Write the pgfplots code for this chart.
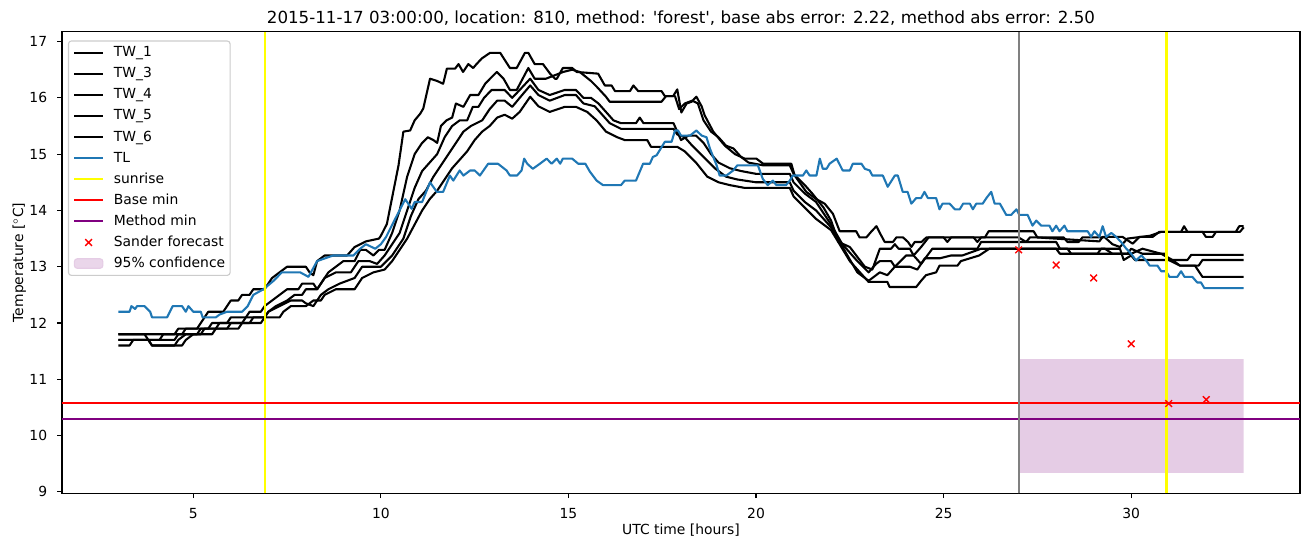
\documentclass[border=0pt]{standalone}
\usepackage{fontspec}
\setmainfont{DejaVu Sans}
\usepackage{pgfplots}
\pgfplotsset{compat=1.18}
\definecolor{tlblue}{RGB}{31,119,180}
\definecolor{confc}{RGB}{229,204,229}
\definecolor{mplpurple}{RGB}{128,0,128}
\definecolor{mplgray}{RGB}{128,128,128}
\definecolor{mplyellow}{RGB}{255,255,0}
\definecolor{mplred}{RGB}{255,0,0}
\definecolor{legedge}{RGB}{204,204,204}
\begin{document}
\begin{tikzpicture}
\path[use as bounding box] (-44.64pt,-38.66pt) rectangle (899.28pt,355.18pt);
\begin{axis}[
  scale only axis, width=891.36pt, height=332.35pt,
  xmin=1.5, xmax=34.5, ymin=8.975, ymax=17.175,
  xtick={5,10,15,20,25,30}, ytick={9,10,11,12,13,14,15,16,17},
  tick align=outside, tick pos=left, major tick length=3.5pt,
  tick style={black, line width=0.8pt},
  axis line style={line width=0.8pt},
  /pgf/number format/assume math mode=true,
  xticklabel style={font=\fontsize{10}{12}\selectfont, anchor=north, inner sep=0pt, yshift=-7pt},
  yticklabel style={font=\fontsize{10}{12}\selectfont, anchor=east, inner sep=0pt, xshift=-7pt},
  xlabel={UTC time [hours]},
  ylabel={Temperature [$^\circ$C]},
  xlabel style={font=\fontsize{10}{12}\selectfont, at={(axis description cs:0.5,0)}, anchor=base, yshift=-29.6pt, inner sep=0pt},
  ylabel style={font=\fontsize{10}{12}\selectfont, at={([xshift=-28pt]axis description cs:0,0.5)}, anchor=base, inner sep=0pt},
  title={2015-11-17 03:00:00, location: 810, method: \textquotesingle forest\textquotesingle, base abs error: 2.22, method abs error: 2.50},
  every axis title/.style={font=\fontsize{12}{14}\selectfont, at={(axis description cs:0.5,1)}, anchor=base, yshift=6pt, inner sep=0pt},
  legend style={at={(axis description cs:0.0048,0.981)}, anchor=north west,
    draw=legedge, line width=0.8pt, rounded corners=2pt, fill=white, fill opacity=0.8, text opacity=1,
    font=\fontsize{10}{12}\selectfont, inner sep=3.5pt, row sep=5.17pt, column sep=7.2pt,
    nodes={inner sep=0pt, text height=7.8pt, text depth=2.2pt}},
  legend cell align=left,
  legend image code/.code={\draw[mark repeat=2,mark phase=2,#1] plot coordinates {(0cm,0cm) (0.36cm,0cm) (0.72cm,0cm)};},
]
% confidence band (behind)
\addplot[fill=confc, draw=none, forget plot] coordinates {(27,9.34) (33,9.34) (33,11.36) (27,11.36)} \closedcycle;

% TW_1
\addplot[black, line width=1.5pt, line join=round] coordinates {
(3,11.8) (4.5,11.8) (4.6,11.9) (5.1,11.9) (5.2,12.0) (5.3,12.1) (5.4,12.2) (5.8,12.2) (5.9,12.3) (6.0,12.4) (6.2,12.4) (6.3,12.5) (6.5,12.5) (6.6,12.6) (6.9,12.6) (7.0,12.7) (7.1,12.8) (7.3,12.9) (7.5,13.0) (8.0,13.0) (8.1,12.9) (8.2,12.85) (8.3,13.1) (8.5,13.2) (9.1,13.2) (9.3,13.35) (9.6,13.45) (9.95,13.5) (10.0,13.55) (10.16,13.76) (10.33,14.33) (10.47,14.8) (10.6,15.4) (10.78,15.42) (10.9,15.6) (11.05,15.72) (11.13,15.81) (11.31,16.34) (11.5,16.3) (11.66,16.25) (11.76,16.52) (11.98,16.52) (12.07,16.6) (12.19,16.46) (12.33,16.6) (12.46,16.53) (12.55,16.6) (12.69,16.7) (12.91,16.8) (13.18,16.8) (13.44,16.53) (13.62,16.53) (13.84,16.8) (13.93,16.8) (14.1,16.6) (14.32,16.6) (14.51,16.43) (14.64,16.34) (14.69,16.34) (14.85,16.53) (15.1,16.53) (15.22,16.46) (15.79,16.43) (15.97,16.22) (16.15,16.22) (16.24,16.12) (16.64,16.12) (16.73,16.22) (16.86,16.12) (17.48,16.12) (17.57,16.03) (17.79,16.03) (17.9,16.15) (18.01,15.74) (18.15,15.9) (18.28,15.93) (18.41,16.02) (18.55,15.85) (18.63,15.69) (18.86,15.4) (19.08,15.22) (19.17,15.15) (19.44,15.0) (19.7,14.92) (20.01,14.92) (20.19,14.83) (20.94,14.83) (21.03,14.62) (21.34,14.33) (21.61,14.2) (21.83,14.12) (22.05,13.94) (22.23,13.63) (22.67,13.63) (22.76,13.52) (22.94,13.52) (23.08,13.63) (23.21,13.72) (23.3,13.6) (23.43,13.44) (23.65,13.44) (23.74,13.52) (23.92,13.52) (24.05,13.44) (24.14,13.35) (24.23,13.44) (24.41,13.44) (24.54,13.52) (26.1,13.52) (26.2,13.63) (27.4,13.63) (27.5,13.52) (29.15,13.45) (29.24,13.53) (29.77,13.53) (30.04,13.41) (30.22,13.53) (30.57,13.53) (30.75,13.62) (31.33,13.62) (31.41,13.72) (31.5,13.62) (31.9,13.62) (31.99,13.53) (32.17,13.53) (32.26,13.62) (32.79,13.62) (32.88,13.72) (33.0,13.72)
};
\addlegendentry{TW\_1}
% TW_3
\addplot[black, line width=1.5pt, line join=round] coordinates {
(3,11.8) (3.7,11.8) (3.8,11.7) (4.1,11.7) (4.2,11.8) (4.7,11.8) (4.8,11.9) (5.4,11.9) (5.5,12.0) (5.9,12.0) (6.0,12.1) (6.4,12.1) (6.5,12.2) (6.8,12.2) (6.9,12.3) (7.1,12.4) (7.3,12.5) (7.5,12.6) (7.8,12.6) (7.9,12.7) (8.2,12.7) (8.3,12.6) (8.4,12.7) (8.6,12.9) (8.8,13.0) (9.0,13.1) (9.3,13.1) (9.45,13.3) (9.6,13.3) (9.8,13.2) (9.95,13.3) (10.1,13.3) (10.3,13.6) (10.5,14.0) (10.7,14.6) (10.9,15.0) (11.1,15.2) (11.25,15.3) (11.4,15.25) (11.5,15.2) (11.6,15.5) (11.75,15.6) (11.9,15.65) (12.0,15.9) (12.2,15.84) (12.38,16.05) (12.6,16.05) (12.78,16.25) (12.91,16.34) (13.09,16.46) (13.27,16.34) (13.44,16.14) (13.62,16.14) (13.93,16.53) (14.1,16.34) (14.4,16.34) (14.86,16.46) (15.1,16.5) (15.3,16.46) (15.6,16.3) (15.75,16.2) (16.0,16.02) (16.1,15.93) (17.48,15.93) (17.6,16.03) (17.84,16.03) (17.95,15.8) (18.1,15.9) (18.3,15.95) (18.45,15.9) (18.6,15.6) (18.8,15.4) (19.0,15.3) (19.2,15.15) (19.4,15.1) (19.6,14.95) (19.8,14.85) (20.2,14.8) (20.9,14.8) (21.0,14.65) (21.3,14.45) (21.5,14.3) (21.8,14.05) (22.0,13.82) (22.2,13.44) (22.5,13.35) (22.9,13.0) (23.1,12.95) (23.3,13.32) (23.6,13.32) (23.7,13.4) (23.8,13.32) (24.1,13.32) (24.2,13.2) (24.4,13.35) (24.6,13.52) (25.0,13.52) (25.1,13.44) (25.2,13.52) (25.8,13.52) (25.9,13.44) (26.0,13.52) (27.0,13.52) (27.2,13.44) (27.3,13.52) (28.2,13.52) (28.3,13.44) (28.6,13.44) (28.7,13.52) (29.3,13.52) (29.5,13.4) (29.7,13.35) (29.9,13.5) (30.5,13.55) (30.8,13.62) (32.9,13.62) (33.0,13.7)
};
\addlegendentry{TW\_3}
% TW_4
\addplot[black, line width=1.5pt, line join=round] coordinates {
(3,11.7) (3.8,11.7) (3.9,11.6) (4.5,11.6) (4.6,11.7) (4.8,11.8) (5.2,11.8) (5.3,11.9) (5.6,11.9) (5.7,12.0) (6.3,12.0) (6.4,12.1) (6.9,12.1) (7.0,12.2) (7.2,12.3) (7.5,12.4) (7.7,12.5) (7.9,12.5) (8.0,12.6) (8.3,12.6) (8.5,12.8) (8.8,12.9) (9.2,12.9) (9.4,13.1) (9.7,13.1) (9.9,13.05) (10.1,13.2) (10.3,13.4) (10.5,13.6) (10.7,14.0) (10.9,14.4) (11.1,14.7) (11.3,14.85) (11.5,15.0) (11.7,15.3) (11.9,15.5) (12.1,15.6) (12.3,15.6) (12.45,15.84) (12.6,15.84) (12.75,16.0) (12.95,16.14) (13.3,16.14) (13.5,16.0) (13.7,16.14) (13.98,16.34) (14.2,16.14) (14.5,16.05) (14.9,16.14) (15.2,16.14) (15.4,16.0) (15.6,16.0) (15.8,15.9) (16.0,15.75) (16.2,15.6) (16.4,15.55) (16.8,15.55) (16.9,15.65) (17.0,15.55) (17.8,15.55) (17.9,15.4) (18.0,15.25) (18.2,15.33) (18.4,15.33) (18.6,15.2) (18.8,15.0) (19.0,14.85) (19.3,14.75) (19.6,14.7) (20.0,14.65) (20.9,14.65) (21.0,14.5) (21.3,14.3) (21.6,14.15) (21.8,13.95) (22.0,13.75) (22.3,13.4) (22.7,13.1) (23.0,12.9) (23.2,13.05) (23.3,13.1) (23.6,13.1) (23.7,13.0) (24.0,13.2) (24.2,13.2) (24.4,13.05) (24.7,13.32) (25.9,13.32) (26.0,13.44) (28.0,13.44) (28.1,13.32) (29.3,13.32) (29.5,13.23) (30.0,13.23) (30.3,13.32) (30.8,13.23) (31.1,13.12) (31.5,13.12) (31.6,13.21) (33,13.21)
};
\addlegendentry{TW\_4}
% TW_5
\addplot[black, line width=1.5pt, line join=round] coordinates {
(3,11.6) (3.3,11.6) (3.4,11.7) (4.5,11.7) (4.6,11.8) (5.1,11.8) (5.2,11.9) (5.9,11.9) (6.0,12.0) (6.5,12.0) (6.6,12.1) (6.9,12.1) (7.0,12.2) (7.3,12.3) (7.6,12.4) (7.9,12.4) (8.0,12.35) (8.2,12.3) (8.4,12.5) (8.6,12.6) (8.9,12.7) (9.3,12.8) (9.5,13.0) (10.0,13.0) (10.3,13.2) (10.6,13.5) (10.8,13.9) (11.0,14.2) (11.2,14.35) (11.4,14.6) (11.6,14.8) (11.8,15.0) (12.0,15.2) (12.2,15.4) (12.4,15.5) (12.7,15.6) (12.9,15.8) (13.1,15.95) (13.3,15.95) (13.5,15.84) (13.7,16.0) (13.98,16.22) (14.2,16.05) (14.5,15.95) (14.9,16.05) (15.2,16.05) (15.4,15.9) (15.7,15.85) (15.9,15.7) (16.1,15.55) (16.4,15.45) (17.8,15.45) (17.9,15.35) (18.1,15.3) (18.3,15.15) (18.6,14.95) (18.9,14.75) (19.2,14.6) (19.5,14.55) (20.0,14.5) (20.9,14.5) (21.0,14.35) (21.3,14.15) (21.6,14.0) (21.8,13.85) (22.0,13.7) (22.7,12.9) (23.0,12.75) (23.3,12.9) (23.5,12.85) (23.7,13.0) (24.1,13.0) (24.3,12.95) (24.5,13.15) (24.9,13.15) (25.2,13.2) (25.5,13.2) (26.0,13.32) (28.3,13.32) (28.4,13.23) (29.9,13.23) (30.0,13.32) (30.3,13.23) (30.9,13.23) (31.0,13.12) (31.3,13.02) (31.8,13.02) (31.9,13.12) (33,13.12)
};
\addlegendentry{TW\_5}
% TW_6
\addplot[black, line width=1.5pt, line join=round] coordinates {
(3,11.7) (3.8,11.7) (3.9,11.6) (4.7,11.6) (4.8,11.7) (5.0,11.8) (5.5,11.8) (5.6,11.9) (6.2,11.9) (6.3,12.0) (6.8,12.0) (6.9,12.1) (7.3,12.1) (7.4,12.2) (7.6,12.3) (8.0,12.3) (8.2,12.4) (8.4,12.4) (8.5,12.5) (8.8,12.6) (9.3,12.6) (9.5,12.8) (9.8,12.9) (10.1,12.95) (10.3,13.1) (10.5,13.3) (10.7,13.5) (10.9,13.75) (11.1,14.0) (11.3,14.2) (11.5,14.35) (11.7,14.55) (11.9,14.75) (12.1,14.9) (12.3,15.05) (12.5,15.25) (12.7,15.4) (12.9,15.5) (13.1,15.65) (13.3,15.7) (13.5,15.63) (13.7,15.75) (13.98,16.02) (14.2,15.85) (14.5,15.75) (14.9,15.84) (15.2,15.84) (15.5,15.75) (15.75,15.6) (16.0,15.4) (16.3,15.3) (16.5,15.25) (17.1,15.25) (17.2,15.13) (17.9,15.13) (18.1,15.05) (18.4,14.85) (18.7,14.6) (19.0,14.5) (19.3,14.45) (19.7,14.4) (20.9,14.4) (21.0,14.25) (21.3,14.05) (21.6,13.85) (21.8,13.75) (22.0,13.65) (22.5,13.1) (23.0,12.73) (23.5,12.73) (23.56,12.64) (24.27,12.64) (24.4,12.75) (24.53,12.85) (24.8,12.9) (24.89,13.02) (25.37,13.02) (25.46,13.1) (25.95,13.2) (26.22,13.32) (28.0,13.32) (28.1,13.23) (29.1,13.23) (29.2,13.32) (29.7,13.32) (29.8,13.12) (30.0,13.2) (30.1,13.12) (31.1,13.12) (31.3,13.02) (31.7,13.02) (31.9,12.82) (33,12.82)
};
\addlegendentry{TW\_6}
% TL
\addplot[tlblue, line width=1.5pt, line join=round] coordinates {
(3.0,12.2) (3.3,12.2) (3.35,12.3) (3.45,12.25) (3.5,12.3) (3.7,12.3) (3.85,12.2) (3.9,12.1) (4.3,12.1) (4.45,12.3) (4.7,12.3) (4.8,12.2) (4.87,12.3) (5.0,12.2) (5.2,12.2) (5.25,12.1) (5.6,12.1) (5.7,12.15) (5.9,12.2) (6.3,12.2) (6.45,12.3) (6.6,12.5) (6.87,12.6) (7.14,12.75) (7.36,12.9) (7.85,12.9) (8.07,12.82) (8.3,13.1) (8.73,13.2) (9.27,13.2) (9.45,13.32) (9.6,13.4) (9.85,13.32) (10.0,13.4) (10.14,13.53) (10.29,13.73) (10.65,14.2) (10.82,14.03) (10.9,14.15) (11.1,14.15) (11.31,14.5) (11.49,14.33) (11.66,14.33) (11.84,14.62) (11.93,14.53) (12.1,14.71) (12.2,14.62) (12.38,14.71) (12.5,14.71) (12.64,14.62) (12.86,14.83) (13.12,14.83) (13.35,14.71) (13.44,14.62) (13.63,14.62) (13.75,14.71) (13.82,14.92) (13.9,14.83) (14.05,14.74) (14.24,14.83) (14.42,14.92) (14.55,14.83) (14.69,14.92) (14.78,14.83) (14.85,14.92) (15.1,14.92) (15.26,14.83) (15.45,14.83) (15.57,14.69) (15.75,14.53) (15.92,14.45) (16.4,14.45) (16.5,14.53) (16.8,14.53) (16.99,14.83) (17.17,14.83) (17.25,14.95) (17.35,14.98) (17.57,15.22) (17.75,15.22) (17.84,15.42) (17.92,15.42) (18.0,15.33) (18.24,15.33) (18.41,15.42) (18.55,15.33) (18.68,15.3) (18.77,15.1) (18.95,14.8) (19.03,14.62) (19.21,14.62) (19.39,14.71) (19.5,14.8) (20.05,14.8) (20.18,14.56) (20.31,14.45) (20.45,14.53) (20.54,14.45) (20.8,14.45) (20.9,14.53) (20.98,14.62) (21.25,14.62) (21.34,14.71) (21.43,14.62) (21.61,14.62) (21.7,14.92) (21.78,14.74) (21.88,14.74) (21.96,14.83) (22.15,14.92) (22.31,14.71) (22.5,14.71) (22.58,14.83) (22.81,14.83) (22.9,14.74) (23.03,14.71) (23.1,14.62) (23.38,14.62) (23.51,14.42) (23.7,14.62) (23.78,14.62) (23.91,14.33) (24.04,14.33) (24.14,14.12) (24.27,14.22) (24.4,14.22) (24.49,14.33) (24.58,14.22) (24.8,14.22) (24.89,14.02) (24.97,14.12) (25.16,14.12) (25.3,14.02) (25.43,14.02) (25.52,14.12) (25.7,14.12) (25.78,14.02) (25.87,14.12) (26.04,14.12) (26.14,14.22) (26.27,14.33) (26.36,14.12) (26.5,14.12) (26.67,13.92) (26.8,13.92) (26.94,14.02) (27.02,13.92) (27.24,13.92) (27.37,13.73) (27.47,13.82) (27.6,13.73) (27.82,13.73) (27.9,13.63) (28.0,13.73) (28.09,13.63) (28.22,13.73) (28.3,13.63) (28.84,13.63) (28.93,13.53) (29.02,13.63) (29.15,13.53) (29.24,13.72) (29.33,13.53) (29.47,13.6) (29.6,13.53) (29.73,13.44) (29.87,13.32) (30.0,13.23) (30.13,13.11) (30.27,13.2) (30.4,13.11) (30.49,13.02) (30.7,13.02) (30.8,12.92) (30.93,12.92) (31.02,12.82) (31.23,12.82) (31.33,12.92) (31.42,12.82) (31.63,12.82) (31.76,12.72) (31.86,12.72) (31.95,12.62) (33.0,12.62)
};
\addlegendentry{TL}
% sunrise
\addplot[mplyellow, line width=1.5pt] coordinates {(6.91,8.975) (6.91,17.175)};
\addlegendentry{sunrise}
\addplot[mplyellow, line width=1.5pt, forget plot] coordinates {(30.94,8.975) (30.94,17.175)};
% base / method min
\addplot[mplred, line width=1.5pt] coordinates {(1.5,10.58) (34.5,10.58)};
\addlegendentry{Base min}
\addplot[mplpurple, line width=1.5pt] coordinates {(1.5,10.30) (34.5,10.30)};
\addlegendentry{Method min}
% forecast time
\addplot[mplgray, line width=1.5pt, forget plot] coordinates {(27,8.975) (27,17.175)};
% Sander forecast
\addplot[mplred, only marks, mark=x, mark size=3.4pt, mark options={line width=1pt}] coordinates {(27,13.3) (28,13.03) (29,12.8) (30,11.63) (31,10.57) (32,10.64)};
\addlegendentry{Sander forecast}
\addlegendimage{legend image code/.code={\fill[confc] (0cm,-0.12cm) rectangle (0.72cm,0.12cm);}}
\addlegendentry{95\% confidence}
\end{axis}
\end{tikzpicture}
\end{document}
